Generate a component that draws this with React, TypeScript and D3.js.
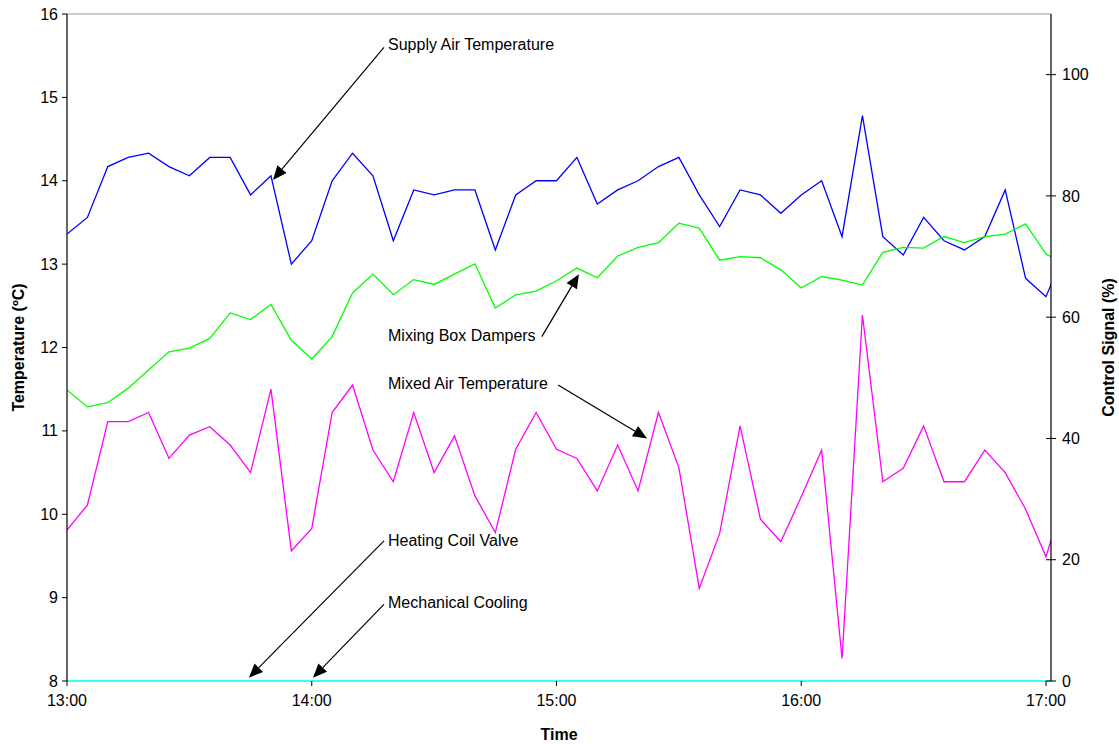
import React from 'react';
import * as d3 from 'd3';

const times = [
  '13:00','13:05','13:10','13:15','13:20','13:25','13:30','13:35','13:40','13:45',
  '13:50','13:55','14:00','14:05','14:10','14:15','14:20','14:25','14:30','14:35',
  '14:40','14:45','14:50','14:55','15:00','15:05','15:10','15:15','15:20','15:25',
  '15:30','15:35','15:40','15:45','15:50','15:55','16:00','16:05','16:10','16:15',
  '16:20','16:25','16:30','16:35','16:40','16:45','16:50','16:55','17:00','17:05',
];

// Left axis (Temperature ºC)
const supplyAirTemp = [
  13.36, 13.56, 14.17, 14.28, 14.33, 14.17, 14.06, 14.28, 14.28, 13.83,
  14.06, 13.00, 13.28, 14.00, 14.33, 14.06, 13.28, 13.89, 13.83, 13.89,
  13.89, 13.17, 13.83, 14.00, 14.00, 14.28, 13.72, 13.89, 14.00, 14.17,
  14.28, 13.83, 13.45, 13.89, 13.83, 13.61, 13.83, 14.00, 13.33, 14.78,
  13.33, 13.11, 13.56, 13.28, 13.17, 13.33, 13.89, 12.83, 12.61, 13.20,
];
const mixedAirTemp = [
  9.81, 10.11, 11.11, 11.11, 11.22, 10.67, 10.95, 11.05, 10.83, 10.50,
  11.50, 9.56, 9.83, 11.22, 11.55, 10.77, 10.39, 11.22, 10.50, 10.94,
  10.22, 9.78, 10.78, 11.22, 10.78, 10.67, 10.28, 10.83, 10.28, 11.22,
  10.56, 9.11, 9.77, 11.06, 9.94, 9.67, 10.21, 10.77, 8.27, 12.39,
  10.39, 10.55, 11.06, 10.39, 10.39, 10.77, 10.50, 10.06, 9.49, 10.30,
];
// Right axis (Control Signal %)
const mixingBoxDampers = [
  48.0, 45.2, 45.9, 48.3, 51.3, 54.3, 54.9, 56.5, 60.7, 59.6,
  62.1, 56.2, 53.1, 56.8, 64.0, 67.1, 63.7, 66.2, 65.4, 67.1,
  68.8, 61.5, 63.7, 64.3, 66.0, 68.1, 66.5, 70.1, 71.5, 72.3,
  75.5, 74.7, 69.4, 70.0, 69.8, 67.8, 64.8, 66.7, 66.1, 65.3,
  70.7, 71.5, 71.4, 73.3, 72.3, 73.3, 73.7, 75.4, 70.4, 68.6,
];
const heatingCoilValve = [
  0,0,0,0,0,0,0,0,0,0, 0,0,0,0,0,0,0,0,0,0, 0,0,0,0,0,0,0,0,0,0,
  0,0,0,0,0,0,0,0,0,0, 0,0,0,0,0,0,0,0,0,0,
];
const mechanicalCooling = [
  0,0,0,0,0,0,0,0,0,0, 0,0,0,0,0,0,0,0,0,0, 0,0,0,0,0,0,0,0,0,0,
  0,0,0,0,0,0,0,0,0,0, 0,0,0,0,0,0,0,0,0,0,
];

const xTickLabels = ['13:00', '14:00', '15:00', '16:00', '17:00'];
const leftTicks = [8, 9, 10, 11, 12, 13, 14, 15, 16];
const rightTicks = [0, 20, 40, 60, 80, 100];

// annotations: positions in minutes after 13:00 and left-axis temperature
const annotations = [
  { label: 'Supply Air Temperature', text: [78.7, 15.64], from: [77.7, 15.6], tip: [50.5, 14.01] },
  { label: 'Mixing Box Dampers', text: [78.7, 12.15], from: [116.4, 12.13], tip: [125.5, 12.88] },
  { label: 'Mixed Air Temperature', text: [78.7, 11.57], from: [120.4, 11.55], tip: [142.2, 10.91] },
  { label: 'Heating Coil Valve', text: [78.7, 9.69], from: [77.7, 9.68], tip: [44.6, 8.04] },
  { label: 'Mechanical Cooling', text: [78.7, 8.94], from: [77.7, 8.92], tip: [60.3, 8.04] },
];

const W = 1119, H = 744;
const L = 67, R = 1051, T = 14, B = 681;
const X17 = 1046;
const FONT = '"Liberation Sans", Arial, sans-serif';

const parse = (s: string) => {
  const [h, m] = s.split(':').map(Number);
  return new Date(2000, 0, 1, h, m);
};

export default function App() {
  const x = d3.scaleTime().domain([parse('13:00'), parse('17:00')]).range([L, X17]);
  const yL = d3.scaleLinear().domain([8, 16]).range([B, T]);
  const yR = d3.scaleLinear().domain([0, 110]).range([B, T]);
  const t0 = parse('13:00').getTime();
  const xm = (m: number) => x(new Date(t0 + m * 60000));

  const lineL = d3.line<number>().x((_, i) => x(parse(times[i]))).y(d => yL(d));
  const lineR = d3.line<number>().x((_, i) => x(parse(times[i]))).y(d => yR(d));

  const arrow = (a: typeof annotations[0], k: number) => {
    const x1 = xm(a.from[0]), y1 = yL(a.from[1]);
    const x2 = xm(a.tip[0]), y2 = yL(a.tip[1]);
    const dx = x2 - x1, dy = y2 - y1;
    const len = Math.hypot(dx, dy);
    const ux = dx / len, uy = dy / len;
    const hl = 14, hw = 6;
    const bx = x2 - ux * hl, by = y2 - uy * hl;
    const p1 = [bx - uy * hw, by + ux * hw];
    const p2 = [bx + uy * hw, by - ux * hw];
    return (
      <g key={k}>
        <line x1={x1} y1={y1} x2={bx} y2={by} stroke="#000" strokeWidth={1.2} />
        <polygon points={`${x2},${y2} ${p1[0]},${p1[1]} ${p2[0]},${p2[1]}`} fill="#000" />
        <text x={xm(a.text[0])} y={yL(a.text[1])} dy="0.35em" fontSize={16} fontFamily={FONT} fill="#000">{a.label}</text>
      </g>
    );
  };

  return (
    <svg width={W} height={H} style={{ position: 'absolute', left: 0, top: 0, background: '#fff' }}>
      <defs>
        <clipPath id="plot">
          <rect x={L} y={T} width={R - L} height={B - T + 2} />
        </clipPath>
      </defs>
      <rect x={0} y={0} width={W} height={H} fill="#fff" />
      <line x1={L} x2={R} y1={T} y2={T} stroke="#999" strokeWidth={1} />
      <g clipPath="url(#plot)" fill="none">
        <path d={lineL(supplyAirTemp) || ''} stroke="#0000FF" strokeWidth={1.3} />
        <path d={lineR(mixingBoxDampers) || ''} stroke="#00FF00" strokeWidth={1.3} />
        <path d={lineL(mixedAirTemp) || ''} stroke="#FF00FF" strokeWidth={1.3} />
        <path d={lineR(heatingCoilValve) || ''} stroke="#00CCCC" strokeWidth={2} />
        <path d={lineR(mechanicalCooling) || ''} stroke="#33FFFF" strokeWidth={2} />
      </g>
      <line x1={L} x2={L} y1={T} y2={B} stroke="#000" strokeWidth={1.2} />
      {leftTicks.map(v => (
        <g key={v}>
          <line x1={L - 5} x2={L} y1={yL(v)} y2={yL(v)} stroke="#000" />
          <text x={L - 9} y={yL(v)} dy="0.35em" textAnchor="end" fontSize={16} fontFamily={FONT}>{v}</text>
        </g>
      ))}
      <line x1={R} x2={R} y1={T} y2={B} stroke="#000" strokeWidth={1.2} />
      {rightTicks.map(v => (
        <g key={v}>
          <line x1={R - 5} x2={R + 5} y1={yR(v)} y2={yR(v)} stroke="#000" />
          <text x={R + 11} y={yR(v)} dy="0.35em" textAnchor="start" fontSize={16} fontFamily={FONT}>{v}</text>
        </g>
      ))}
      {xTickLabels.map(s => (
        <g key={s}>
          <line x1={x(parse(s))} x2={x(parse(s))} y1={B} y2={B + 5} stroke="#000" />
          <text x={x(parse(s))} y={B + 25} textAnchor="middle" fontSize={16} fontFamily={FONT}>{s}</text>
        </g>
      ))}
      <text x={(L + R) / 2} y={740} textAnchor="middle" fontSize={16} fontWeight="bold" fontFamily={FONT}>Time</text>
      <text transform={`translate(24,${(T + B) / 2}) rotate(-90)`} textAnchor="middle" fontSize={16} fontWeight="bold" fontFamily={FONT}>Temperature (ºC)</text>
      <text transform={`translate(1114,${(T + B) / 2}) rotate(-90)`} textAnchor="middle" fontSize={16} fontWeight="bold" fontFamily={FONT}>Control Signal (%)</text>
      {annotations.map(arrow)}
    </svg>
  );
}
